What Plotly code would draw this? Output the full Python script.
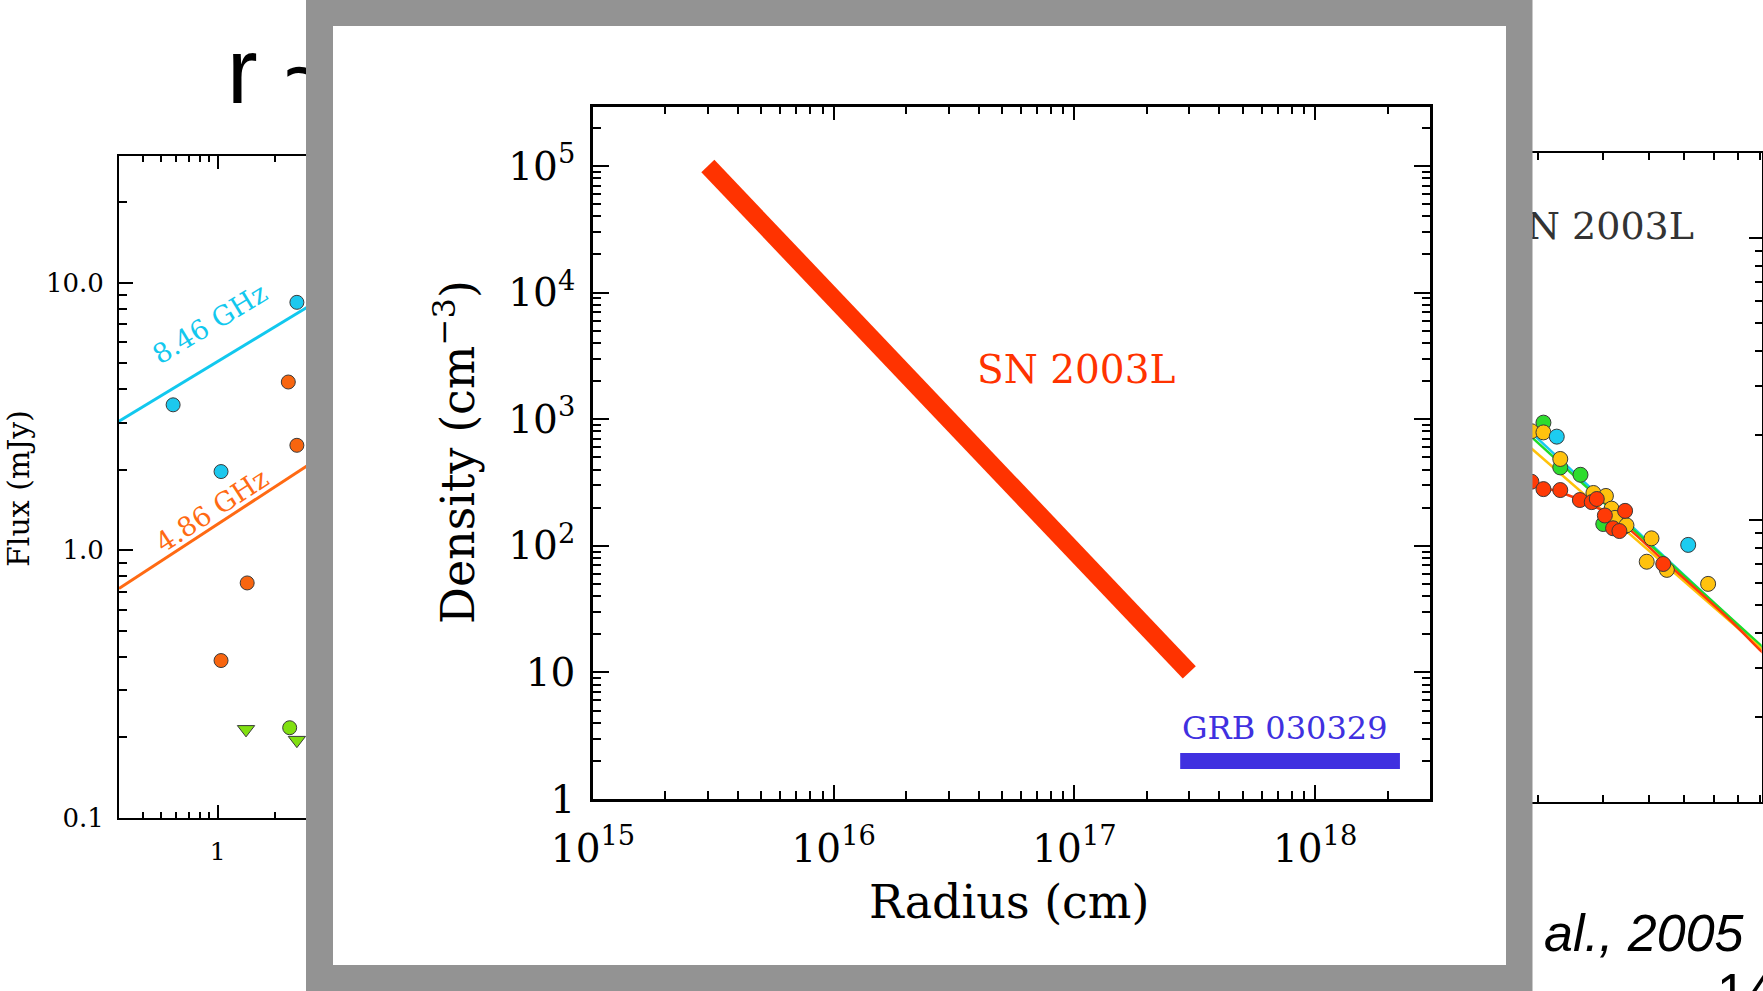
import math
import plotly.graph_objects as go

W, H = 1763, 991

# ---------------- Front inset: circumstellar density vs radius ----------------
sn_radius_cm = [3.0e15, 3.0e17]
sn_density = [1.0e5, 10.0]
grb_radius_cm = [2.75e17, 2.25e18]
grb_density = [2.0, 2.0]
inset_x_tickvals = [1e15, 1e16, 1e17, 1e18]
inset_x_ticktext = ["10<sup>15</sup>", "10<sup>16</sup>", "10<sup>17</sup>", "10<sup>18</sup>"]
inset_y_tickvals = [1, 10, 1e2, 1e3, 1e4, 1e5]
inset_y_ticktext = ["1", "10", "10<sup>2</sup>", "10<sup>3</sup>", "10<sup>4</sup>", "10<sup>5</sup>"]

# ---------------- Left background panel: early radio fluxes ----------------
cyan_t = [0.58, 1.04, 2.62]
cyan_f = [3.50, 1.97, 8.46]
orange_t = [1.04, 1.43, 2.36, 2.62]
orange_f = [0.387, 0.755, 4.26, 2.47]
lime_t = [2.40]
lime_f = [0.217]
lime_lim_t = [1.41, 2.62]
lime_lim_f = [0.214, 0.195]
fit846_t = [0.3, 3.0]
fit846_f = [3.04, 8.15]
fit486_t = [0.3, 3.0]
fit486_f = [0.72, 2.08]
left_x_tickvals = [1, 10]
left_x_ticktext = ["1", "10"]
left_y_tickvals = [0.1, 1, 10]
left_y_ticktext = ["0.1", "1.0", "10.0"]

# ---------------- Right background panel: SN 2003L light curves ----------------
green_t_r = [20.7, 23.0, 26.1, 30.1, 34.3]
green_f_r = [2.22, 1.54, 1.45, 0.97, 0.95]
yellow_t_r = [19.2, 20.7, 23.0, 28.3, 30.6, 31.7, 32.4, 34.8, 40.7, 39.5, 44.8, 58.0]
yellow_f_r = [2.07, 2.05, 1.65, 1.25, 1.22, 1.10, 1.02, 0.96, 0.863, 0.713, 0.667, 0.595]
red_t_r = [19.2, 20.7, 23.0, 26.0, 28.0, 28.9, 30.4, 32.0, 33.3, 34.5, 43.8]
red_f_r = [1.37, 1.29, 1.28, 1.18, 1.16, 1.19, 1.04, 0.937, 0.916, 1.08, 0.70]
cyan_t_r = [22.5, 51.2]
cyan_f_r = [1.98, 0.818]
fit_cyan_t = [19.0, 90.0]
fit_cyan_f = [2.07, 0.312]
fit_green_t = [19.0, 90.0]
fit_green_f = [2.00, 0.316]
fit_yellow_t = [19.0, 90.0]
fit_yellow_f = [1.82, 0.311]
fit_red_t = [19.0, 23.4, 32.0, 43.8, 66.5, 81.1, 90.0]
fit_red_f = [1.34, 1.247, 1.03, 0.723, 0.443, 0.342, 0.30]

SERIF = "DejaVu Serif"
SANS = "Liberation Sans"


def log_minor(lo_exp, hi_exp):
    return [m * 10.0 ** e for e in range(lo_exp, hi_exp + 1) for m in range(2, 10)]


def px_dom_x(a, b):
    return [a / W, b / W]


def px_dom_y(top, bottom):
    return [1 - bottom / H, 1 - top / H]


fig = go.Figure()

# ---- left panel traces (subplot x/y) ----
fig.add_trace(go.Scatter(x=fit846_t, y=fit846_f, mode="lines", line=dict(color="#12C8EE", width=3),
                         xaxis="x", yaxis="y"))
fig.add_trace(go.Scatter(x=fit486_t, y=fit486_f, mode="lines", line=dict(color="#FF6A13", width=3),
                         xaxis="x", yaxis="y"))
mk_line = dict(color="#3a3a3a", width=1)
fig.add_trace(go.Scatter(x=cyan_t, y=cyan_f, mode="markers",
                         marker=dict(symbol="circle", size=14, color="#1CC8EE", line=mk_line),
                         xaxis="x", yaxis="y"))
fig.add_trace(go.Scatter(x=orange_t, y=orange_f, mode="markers",
                         marker=dict(symbol="circle", size=14, color="#F8650F", line=mk_line),
                         xaxis="x", yaxis="y"))
fig.add_trace(go.Scatter(x=lime_t, y=lime_f, mode="markers",
                         marker=dict(symbol="circle", size=14, color="#80E010", line=mk_line),
                         xaxis="x", yaxis="y"))
fig.add_trace(go.Scatter(x=lime_lim_t, y=lime_lim_f, mode="markers",
                         marker=dict(symbol="triangle-down", size=15, color="#80E010", line=mk_line),
                         xaxis="x", yaxis="y"))

# ---- right panel traces (subplot x2/y2) ----
for tt, ff, col in [(fit_cyan_t, fit_cyan_f, "#18C8F0"), (fit_green_t, fit_green_f, "#1EDC2A"),
                    (fit_yellow_t, fit_yellow_f, "#FFC20A"), (fit_red_t, fit_red_f, "#FF3A08")]:
    fig.add_trace(go.Scatter(x=tt, y=ff, mode="lines", line=dict(color=col, width=2.5, shape="spline"),
                             xaxis="x2", yaxis="y2"))
for tt, ff, col in [(green_t_r, green_f_r, "#2EDC2E"), (yellow_t_r, yellow_f_r, "#FFC20E"),
                    (red_t_r, red_f_r, "#FF3A06"), (cyan_t_r, cyan_f_r, "#1CCCF0")]:
    fig.add_trace(go.Scatter(x=tt, y=ff, mode="markers",
                             marker=dict(symbol="circle", size=15, color=col, line=mk_line),
                             xaxis="x2", yaxis="y2"))

# ---- slide-level text (subplot x3/y3 in pixel units; sits under the overlay frame) ----
fig.add_trace(go.Scatter(x=[227], y=[80], mode="text", text=["r ~"], textposition="middle right",
                         textfont=dict(family=SANS, size=92, color="black"), cliponaxis=False,
                         xaxis="x3", yaxis="y3"))
fig.add_trace(go.Scatter(x=[1694], y=[229], mode="text", text=["SN 2003L"], textposition="middle left",
                         textfont=dict(family=SERIF, size=38, color="#333333"), cliponaxis=False,
                         xaxis="x3", yaxis="y3"))
fig.add_trace(go.Scatter(x=[1544], y=[938], mode="text", text=["<i>al., 2005</i>"],
                         textposition="middle right",
                         textfont=dict(family=SANS, size=52, color="black"), cliponaxis=False,
                         xaxis="x3", yaxis="y3"))
fig.add_trace(go.Scatter(x=[1717], y=[971], mode="text", text=["14"], textposition="bottom right",
                         textfont=dict(family=SANS, size=52, color="black"), cliponaxis=False,
                         xaxis="x3", yaxis="y3"))

# ---- overlay frame subplot (x4/y4) ----
fig.add_trace(go.Scatter(x=[None], y=[None], mode="markers", xaxis="x4", yaxis="y4"))

# ---- inset traces (subplot x5/y5) ----
fig.add_trace(go.Scatter(x=sn_radius_cm, y=sn_density, mode="lines",
                         line=dict(color="#FF3300", width=18), xaxis="x5", yaxis="y5"))
fig.add_trace(go.Scatter(x=grb_radius_cm, y=grb_density, mode="lines",
                         line=dict(color="#4030E0", width=16), xaxis="x5", yaxis="y5"))

tick_common = dict(showline=True, linecolor="black", mirror="ticks", ticks="inside",
                   tickcolor="black", showgrid=False, zeroline=False, automargin=False)

page_axis = dict(visible=False, showgrid=False, zeroline=False, fixedrange=True, automargin=False)

fig.update_layout(
    template="none",
    width=W, height=H, margin=dict(l=0, r=0, t=0, b=0, pad=0, autoexpand=False), autosize=False,
    paper_bgcolor="white", plot_bgcolor="rgba(0,0,0,0)", showlegend=False, hovermode=False,
    # left panel
    xaxis=dict(type="log", domain=px_dom_x(119, 497), range=[math.log10(0.3), math.log10(0.3) + 2],
               anchor="y", linewidth=2, ticklen=13, tickwidth=2,
               tickvals=left_x_tickvals, ticktext=left_x_ticktext,
               tickfont=dict(family=SERIF, size=25, color="black"), ticklabelstandoff=10,
               minor=dict(ticks="inside", ticklen=6, tickwidth=1.5, tickcolor="black",
                          tickvals=log_minor(-1, 1)), **tick_common),
    yaxis=dict(type="log", domain=px_dom_y(156, 817.7), range=[-1, 1.4746],
               anchor="x", linewidth=2, ticklen=14, tickwidth=2,
               tickvals=left_y_tickvals, ticktext=left_y_ticktext,
               tickfont=dict(family=SERIF, size=26, color="black"), ticklabelstandoff=8,
               minor=dict(ticks="inside", ticklen=8, tickwidth=1.5, tickcolor="black",
                          tickvals=log_minor(-1, 1)), **tick_common),
    # right panel
    xaxis2=dict(type="log", domain=px_dom_x(1132.7, 1761.7), range=[0.2, 1.909],
                anchor="y2", linewidth=2, ticklen=13, tickwidth=2,
                tickvals=[1, 10, 100], ticktext=["1", "10", "100"],
                tickfont=dict(family=SERIF, size=24, color="black"),
                minor=dict(ticks="inside", ticklen=7, tickwidth=1.5, tickcolor="black",
                           tickvals=log_minor(0, 2)), **tick_common),
    yaxis2=dict(type="log", domain=px_dom_y(153.3, 802.3), range=[-1, 1.3014],
                anchor="x2", linewidth=2, ticklen=13, tickwidth=2,
                tickvals=[0.1, 1, 10], ticktext=["0.1", "1.0", "10.0"],
                tickfont=dict(family=SERIF, size=24, color="black"),
                minor=dict(ticks="inside", ticklen=7, tickwidth=1.5, tickcolor="black",
                           tickvals=log_minor(-1, 1)), **tick_common),
    # slide-level text layer
    xaxis3=dict(domain=[0, 1], range=[0, W], anchor="y3", **page_axis),
    yaxis3=dict(domain=[0, 1], range=[H, 0], anchor="x3", **page_axis),
    # overlay frame layer
    xaxis4=dict(domain=[0, 1], range=[0, W], anchor="y4", **page_axis),
    yaxis4=dict(domain=[0, 1], range=[H, 0], anchor="x4", **page_axis),
    # inset
    xaxis5=dict(type="log", domain=px_dom_x(593, 1429.5), range=[15, 18.475],
                anchor="y5", linewidth=2.8, ticklen=14, tickwidth=2,
                tickvals=inset_x_tickvals, ticktext=inset_x_ticktext,
                tickfont=dict(family=SERIF, size=39, color="black"), ticklabelstandoff=13,
                minor=dict(ticks="inside", ticklen=8, tickwidth=1.5, tickcolor="black",
                           tickvals=log_minor(15, 18)), **tick_common),
    yaxis5=dict(type="log", domain=px_dom_y(106.5, 799), range=[0, 5.47],
                anchor="x5", linewidth=2.8, ticklen=16, tickwidth=2,
                tickvals=inset_y_tickvals, ticktext=inset_y_ticktext,
                tickfont=dict(family=SERIF, size=39, color="black"), ticklabelstandoff=7,
                minor=dict(ticks="inside", ticklen=8, tickwidth=1.5, tickcolor="black",
                           tickvals=log_minor(0, 5)), **tick_common),
)

# overlay frame drawn inside the x4/y4 subplot so it hides the background panels
fig.add_shape(type="rect", xref="x4", yref="y4", x0=306, x1=1532.5, y0=0, y1=H,
              fillcolor="#939393", line=dict(width=0), layer="below")
fig.add_shape(type="rect", xref="x4", yref="y4", x0=333, x1=1506, y0=26, y1=965,
              fillcolor="white", line=dict(width=0), layer="below")

c = dict(xanchor="center", yanchor="middle", showarrow=False)
ann = []
# left panel labels
ann.append(dict(text="Flux (mJy)", x=18 / W, y=1 - 489 / H, xref="paper", yref="paper",
                textangle=-90, font=dict(family=SERIF, size=30, color="black"), **c))
ann.append(dict(text="8.46 GHz", x=210 / W, y=1 - 324 / H, xref="paper", yref="paper",
                textangle=-31.3, font=dict(family=SERIF, size=27, color="#12C8EE"), **c))
ann.append(dict(text="4.86 GHz", x=211.5 / W, y=1 - 510.5 / H, xref="paper", yref="paper",
                textangle=-33.2, font=dict(family=SERIF, size=27, color="#FF6A13"), **c))
# inset labels
ann.append(dict(text="SN 2003L", x=17.0045, y=3.391, xref="x5", yref="y5",
                font=dict(family=SERIF, size=39, color="#FF3300"), **c))
ann.append(dict(text="GRB 030329", x=17.874, y=0.5576, xref="x5", yref="y5",
                font=dict(family=SERIF, size=32, color="#4030E0"), **c))
ann.append(dict(text="Radius (cm)", x=1009 / W, y=1 - 902 / H, xref="paper", yref="paper",
                font=dict(family=SERIF, size=46, color="black"), **c))
ann.append(dict(text="Density (cm<sup>\u22123</sup>)", x=455 / W, y=1 - 452 / H, xref="paper",
                yref="paper", textangle=-90, font=dict(family=SERIF, size=46, color="black"), **c))
fig.update_layout(annotations=ann)

fig.write_html("out.html", post_script="document.body.style.margin='0px';")
